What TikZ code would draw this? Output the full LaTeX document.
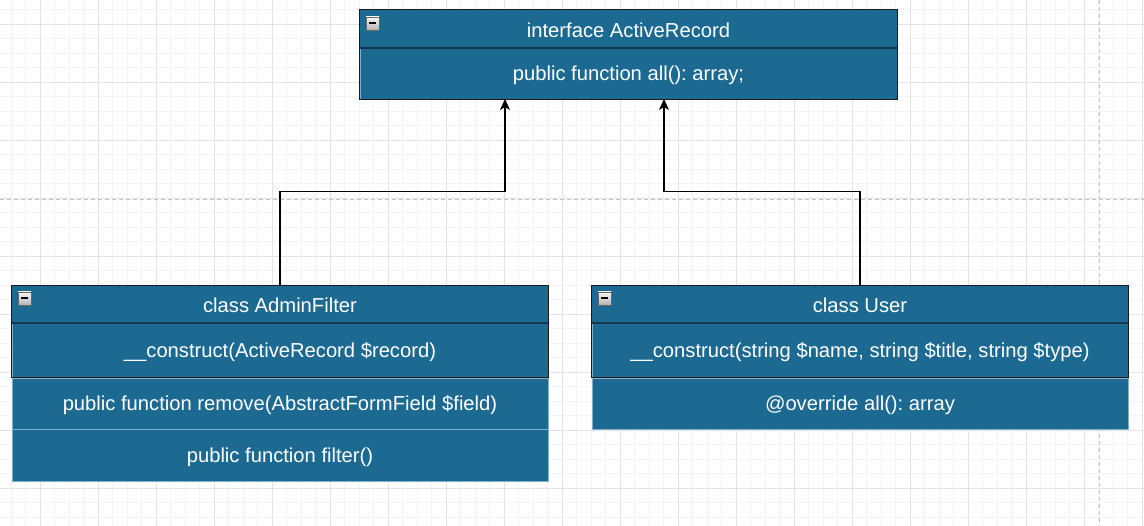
\documentclass[tikz,border=0pt]{standalone}
\usepackage{fontspec}
\setmainfont{Liberation Sans}
\usetikzlibrary{positioning,arrows.meta}
\frenchspacing

\definecolor{umlfill}{HTML}{1C6A92}
\definecolor{umledge}{HTML}{7FB0CC}
\definecolor{umlframe}{HTML}{1A1A1A}
\definecolor{umlsep}{HTML}{14374B}
\definecolor{gridminor}{HTML}{F3F3F3}
\definecolor{gridmajor}{HTML}{E3E3E3}
\definecolor{pageline}{HTML}{C4C4C4}

\begin{document}
\begin{tikzpicture}[x=1pt,y=-1pt,
    every node/.style={font=\fontsize{20.2}{24}\selectfont, text=white},
    head/.style={fill=umlfill, minimum width=536pt, minimum height=37pt, inner sep=0pt, text height=17pt, text depth=0pt},
    row/.style={fill=umlfill, draw=umledge, line width=0.6pt, minimum width=536pt, inner sep=0pt, text height=15pt, text depth=1pt},
    frame/.style={draw=umlframe, line width=1.3pt},
    hsep/.style={draw=umlsep, line width=1.6pt},
    icon/.style={minimum size=13pt, inner sep=0pt, draw=gray!80!black, line width=0.6pt,
        top color=white!95!gray, bottom color=gray!60,
        path picture={\draw[black, line width=2pt] ([xshift=3pt]path picture bounding box.west) -- ([xshift=-3pt]path picture bounding box.east);}},
    inherit/.style={draw=black, line width=1.3pt, -{Stealth[length=11pt,width=10pt,inset=3pt]}},
    pagebreak/.style={draw=pageline, line width=0.8pt, dash pattern=on 4pt off 3pt}]

    % canvas and grid
    \fill[white] (0,0) rectangle (1144,526);
    \useasboundingbox (0,0) rectangle (1144,526);
    \foreach \i in {0,...,78} \draw[gridminor, line width=0.7pt] (11.3+14.5*\i,0) -- ++(0,526);
    \foreach \j in {0,...,35} \draw[gridminor, line width=0.7pt] (0,9.8+14.5*\j) -- ++(1144,0);
    \foreach \i in {0,...,19} \draw[gridmajor, line width=0.9pt] (40.3+58*\i,0) -- ++(0,526);
    \foreach \j in {0,...,8} \draw[gridmajor, line width=0.9pt] (0,24.3+58*\j) -- ++(1144,0);
    \draw[pagebreak] (0,199) -- (1144,199);
    \draw[pagebreak] (1099,0) -- (1099,526);

    % interface
    \node [head, minimum width=537pt, minimum height=38pt] (ifaceHead) at (628.5,29) {interface ActiveRecord};
    \node [row, minimum width=537pt, minimum height=51pt, below=0pt of ifaceHead] (ifaceAll) {public function all(): array;};
    \draw [frame] (ifaceHead.north west) rectangle (ifaceAll.south east);
    \draw [hsep] (ifaceHead.south west) -- (ifaceHead.south east);
    \node [icon] (ifaceIcon) at (372.5,23.5) {};

    % class AdminFilter
    \node [head] (adminHead) at (280,304.5) {class AdminFilter};
    \node [row, minimum height=54pt, below=0pt of adminHead] (adminCons) {\_\_construct(ActiveRecord \$record)};
    \node [row, minimum height=51pt, below=0pt of adminCons] (adminRemove) {public function remove(AbstractFormField \$field)};
    \node [row, minimum height=52pt, below=0pt of adminRemove] (adminFilter) {public function filter()};
    \draw [frame] (adminHead.north west) rectangle (adminCons.south east);
    \draw [hsep] (adminHead.south west) -- (adminHead.south east);
    \node [icon] (adminIcon) at (24.5,298.5) {};

    % class User
    \node [head] (userHead) at (860,304.5) {class User};
    \node [row, minimum height=54pt, below=0pt of userHead] (userCons) {\_\_construct(string \$name, string \$title, string \$type)};
    \node [row, minimum height=51pt, below=0pt of userCons] (userAll) {@override all(): array};
    \draw [frame] (userHead.north west) rectangle (userCons.south east);
    \draw [hsep] (userHead.south west) -- (userHead.south east);
    \node [icon] (userIcon) at (604.5,298.5) {};

    % realisation arrows
    \coordinate (inA) at (505,99);
    \coordinate (inB) at (664,99);
    \draw [inherit] (adminHead.north) -- ++(0,-94) -| (inA);
    \draw [inherit] (userHead.north) -- ++(0,-94) -| (inB);
\end{tikzpicture}
\end{document}
